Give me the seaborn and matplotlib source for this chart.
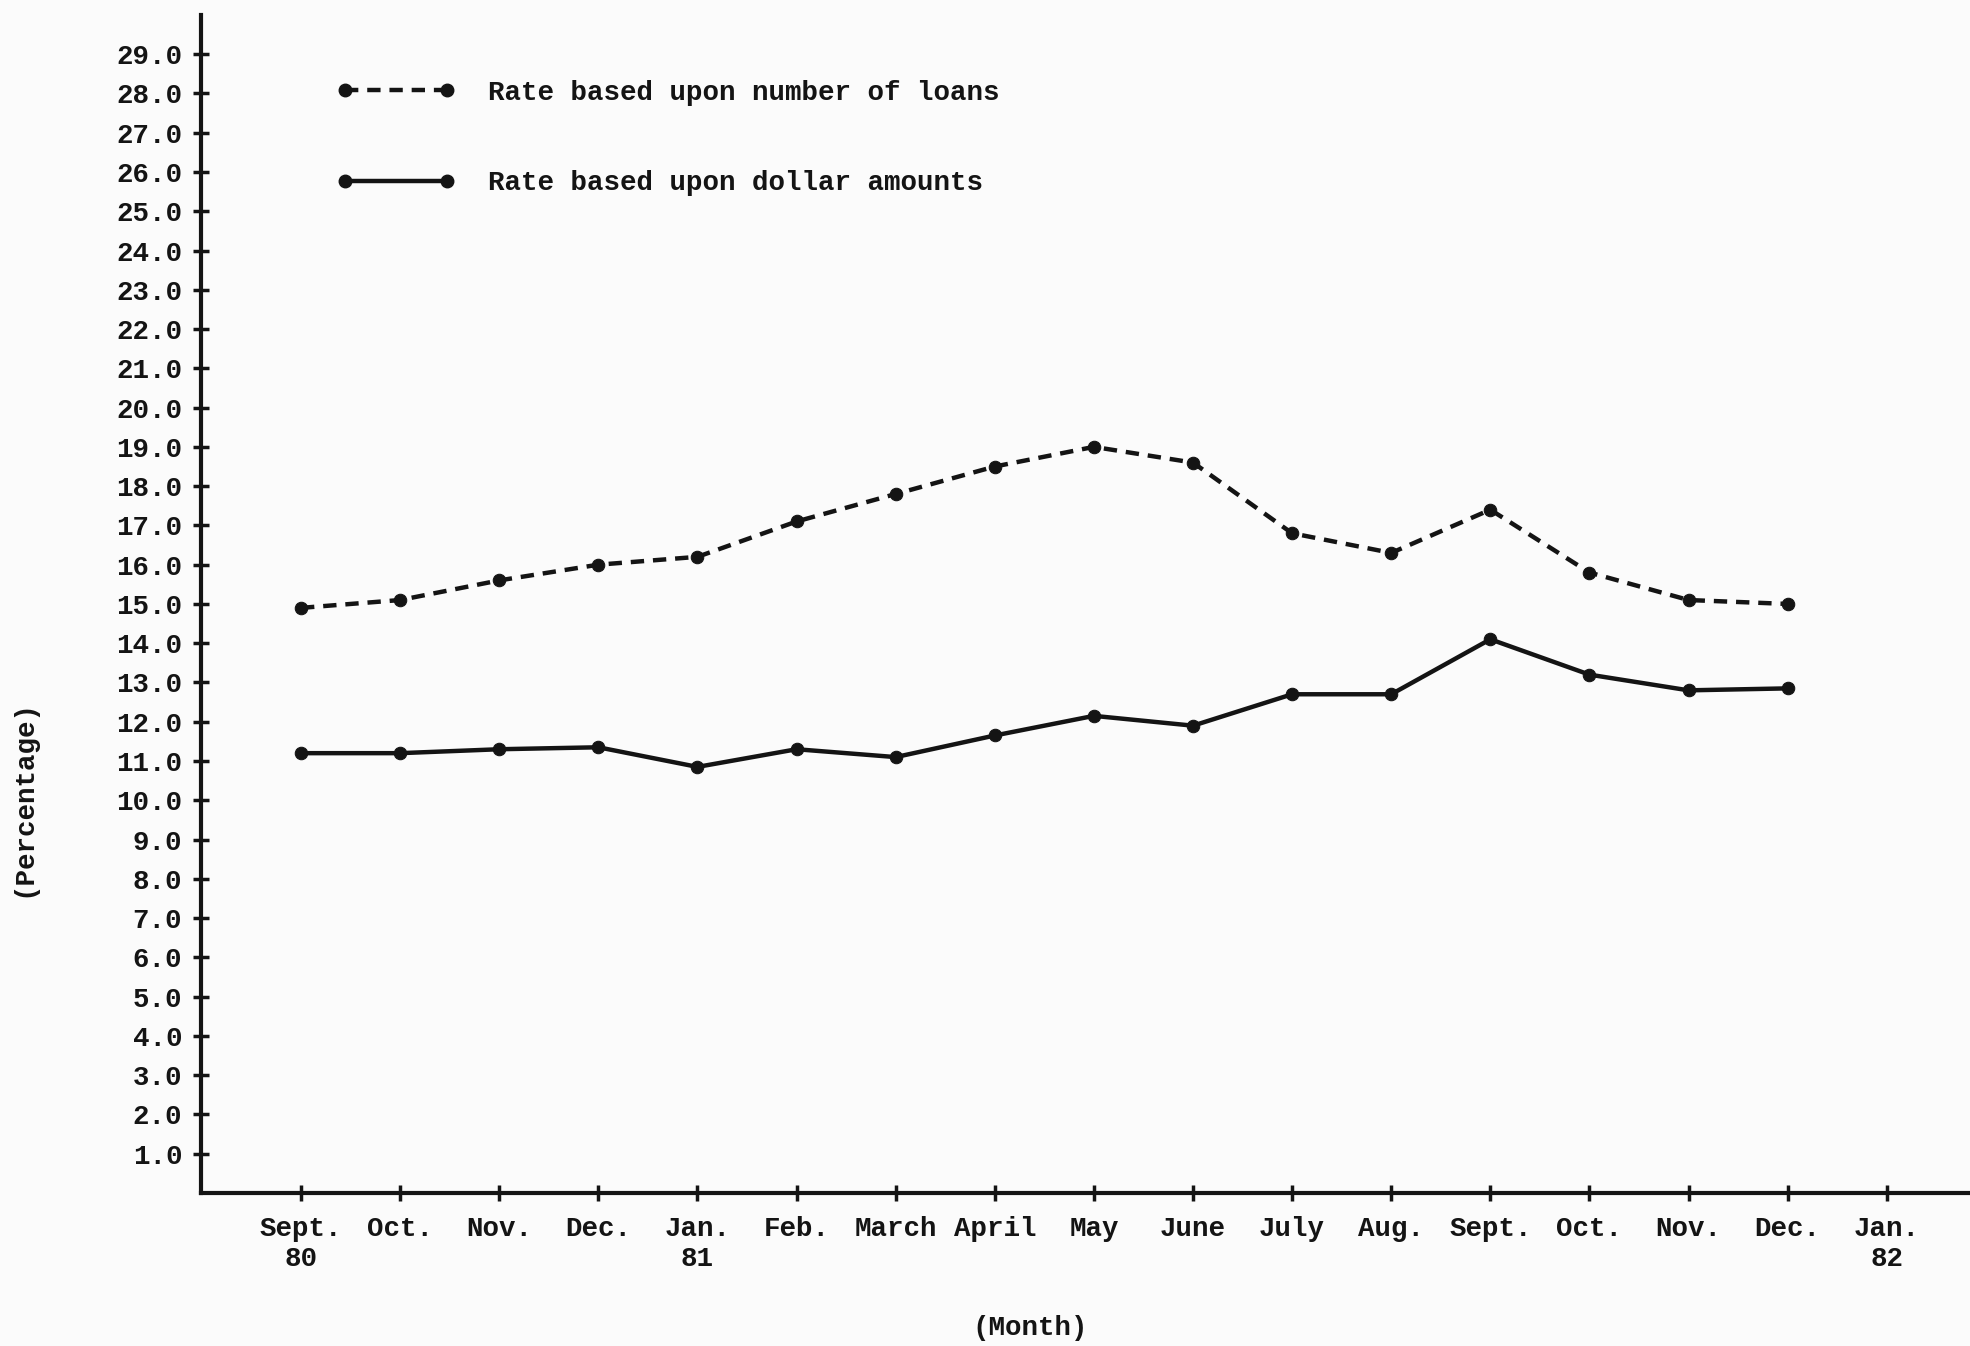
import pandas as pd
import seaborn as sns
import matplotlib.pyplot as plt
from matplotlib.lines import Line2D

# data
months = ['Sept.\n80', 'Oct.', 'Nov.', 'Dec.', 'Jan.\n81', 'Feb.', 'March', 'April',
          'May', 'June', 'July', 'Aug.', 'Sept.', 'Oct.', 'Nov.', 'Dec.', 'Jan.\n82']
rate_loans = [14.9, 15.1, 15.6, 16.0, 16.2, 17.1, 17.8, 18.5, 19.0, 18.6,
              16.8, 16.3, 17.4, 15.8, 15.1, 15.0]
rate_dollars = [11.2, 11.2, 11.3, 11.35, 10.85, 11.3, 11.1, 11.65, 12.15, 11.9,
                12.7, 12.7, 14.1, 13.2, 12.8, 12.85]
label_loans = 'Rate based upon number of loans'
label_dollars = 'Rate based upon dollar amounts'

sns.set_style('ticks')
plt.rcParams['font.family'] = ['Liberation Mono', 'DejaVu Sans Mono']
plt.rcParams['font.weight'] = 'bold'
ink = '#141414'
fs = 19.8

df = pd.DataFrame({
    'month': list(range(len(rate_loans))) * 2,
    'rate': rate_loans + rate_dollars,
    'series': [label_loans] * len(rate_loans) + [label_dollars] * len(rate_dollars),
})

fig = plt.figure(figsize=(19.7, 13.46), dpi=100, facecolor='#fbfbfb')
ax = fig.add_axes([0.102, 0.1137, 0.898, 0.8752])
ax.set_facecolor('#fbfbfb')

sns.lineplot(data=df, x='month', y='rate', style='series', ax=ax,
             dashes={label_loans: (3, 2), label_dollars: ''},
             markers={label_loans: 'o', label_dollars: 'o'},
             color=ink, linewidth=3.2, markersize=9, markeredgecolor=ink,
             legend=False)

ax.set_xlim(-1.01, 16.84)
ax.set_ylim(0, 30)
ax.set_xticks(range(len(months)))
ax.set_xticklabels(months, fontsize=fs, color=ink)
ax.set_yticks(range(1, 30))
ax.set_yticklabels([f'{v:.1f}' for v in range(1, 30)], fontsize=fs, color=ink)
ax.tick_params(axis='both', direction='inout', length=11, width=2.5, color=ink)
ax.tick_params(axis='x', pad=11)
ax.tick_params(axis='y', pad=8)
for lbl in ax.get_xticklabels():
    lbl.set_x(lbl.get_position()[0])

sns.despine(ax=ax)
for side in ['left', 'bottom']:
    ax.spines[side].set_linewidth(3)
    ax.spines[side].set_color(ink)

ax.set_xlabel('')
ax.set_ylabel('')
fig.text(0.523, 0.004, '(Month)', fontsize=fs, color=ink, ha='center', va='bottom')
fig.text(0.012, 0.407, '(Percentage)', fontsize=fs, color=ink, rotation=90,
         ha='center', va='center')

handles = [
    Line2D([], [], color=ink, lw=3.2, ls=(0, (3, 2)), marker='o', markersize=9),
    Line2D([], [], color=ink, lw=3.2, ls='-', marker='o', markersize=9),
]
leg = ax.legend(handles, [label_loans, label_dollars], loc='upper left',
                bbox_to_anchor=(0.077, 0.945), frameon=False, fontsize=fs,
                numpoints=2, handlelength=4.3, handletextpad=1.2,
                labelspacing=2.35, borderpad=0, borderaxespad=0)
for t in leg.get_texts():
    t.set_color(ink)

plt.savefig('out.png', dpi=100, facecolor=fig.get_facecolor())
